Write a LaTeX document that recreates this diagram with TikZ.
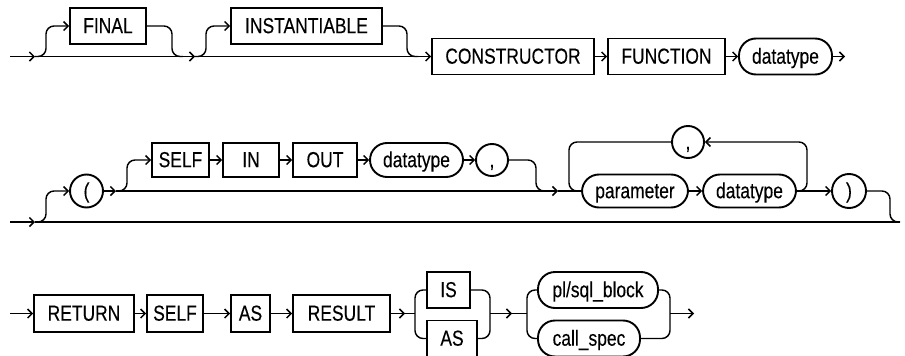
\documentclass[tikz,border=0pt]{standalone}
\usepackage{fontspec}
\setmainfont{Liberation Sans}[FakeStretch=0.80,FakeBold=0.2]
\usetikzlibrary{arrows.meta}
\tikzset{
  kw/.style={draw, rectangle, line width=1.9pt, inner sep=0pt, text height=15.5pt, text depth=1.1pt, minimum height=35pt},
  var/.style={kw, rounded corners=17pt},
  punct/.style={draw, circle, line width=1.9pt, inner sep=0pt, text height=15.5pt, text depth=1.1pt, minimum size=33pt},
  ln/.style={line width=1.45pt},
  arr/.style={ln, -{Straight Barb[length=4.5pt,width=9pt]}},
  curveln/.style={ln, rounded corners=8pt},
  curvearr/.style={arr, rounded corners=8pt}
}
\begin{document}
\begin{tikzpicture}[x=1pt,y=-1pt,font=\fontsize{21.8}{25}\selectfont]
\useasboundingbox (0,0) rectangle (905,356);
% ---------- row 1 ----------
\node[kw, minimum width=76pt, minimum height=36pt] (final) at (108,26) {FINAL};
\node[kw, minimum width=151pt, minimum height=36pt] (inst) at (306.5,26) {INSTANTIABLE};
\node[kw, minimum width=162pt, minimum height=36pt] (cons) at (513,56.5) {CONSTRUCTOR};
\node[kw, minimum width=117pt, minimum height=36pt] (func) at (666.5,56.5) {FUNCTION};
\node[var, minimum width=93pt, minimum height=36pt] (dt1) at (785.5,56.5) {datatype};
\coordinate (s1) at (10,56.5);
\coordinate (a1) at (35,56.5);
\coordinate (m1) at (183,56.5);
\coordinate (a2) at (195,56.5);
\coordinate (m2) at (418,56.5);
\coordinate (e1) at (845,56.5);
\draw[arr] (s1) -- (a1);
\draw[ln] (a1) -- (m1);
\draw[arr] (m1) -- (a2);
\draw[ln] (a2) -- (m2);
\draw[arr] (m2) -- (cons.west);
\draw[curvearr] (a1) -| (46,26) -- (final.west);
\draw[curveln] (final.east) -| (172,56.5) -- (m1);
\draw[curvearr] (a2) -| (206,26) -- (inst.west);
\draw[curveln] (inst.east) -| (407,56.5) -- (m2);
\draw[arr] (cons.east) -- (func.west);
\draw[arr] (func.east) -- (dt1.west);
\draw[arr] (dt1.east) -- (e1);
% ---------- row 2 ----------
\node[punct] (lp) at (86.5,191) {(};
\node[kw, minimum width=57pt, minimum height=34pt] (self2) at (180.5,160) {SELF};
\node[kw, minimum width=56pt, minimum height=34pt] (in) at (251,160) {IN};
\node[kw, minimum width=64pt, minimum height=34pt] (out) at (325,160) {OUT};
\node[var, minimum width=93pt, minimum height=34pt] (dt2) at (416.5,160) {datatype};
\node[punct, minimum size=32pt] (c1) at (492,160) {,};
\node[var, minimum width=106pt, minimum height=33pt] (param) at (635,191) {parameter};
\node[var, minimum width=93pt, minimum height=33pt] (dt3) at (749.5,191) {datatype};
\node[punct, minimum size=32pt] (c2) at (688,142) {,};
\node[punct, minimum size=34pt] (rp) at (849,191) {)};
\coordinate (s2) at (10,222);
\coordinate (b1) at (35,222);
\coordinate (e2) at (900,222);
\coordinate (a3) at (116,191);
\coordinate (m3) at (546,191);
\coordinate (a4) at (558,191);
\draw[arr] (s2) -- (b1);
\draw[ln] (b1) -- (e2);
\draw[curvearr] (b1) -| (46,191) -- (lp.west);
\draw[arr] (lp.east) -- (a3);
\draw[ln] (a3) -- (m3);
\draw[arr] (m3) -- (a4);
\draw[ln] (a4) -- (param.west);
\draw[curvearr] (a3) -| (127,160) -- (self2.west);
\draw[arr] (self2.east) -- (in.west);
\draw[arr] (in.east) -- (out.west);
\draw[arr] (out.east) -- (dt2.west);
\draw[arr] (dt2.east) -- (c1.west);
\draw[curveln] (c1.east) -| (536,191) -- (m3);
\draw[arr] (param.east) -- (dt3.west);
\draw[curvearr] (dt3.east) -| (807,142) -- (c2.east);
\draw[curveln] (c2.west) -| (569,191) -- (param.west);
\draw[arr] (dt3.east) -- (rp.west);
\draw[curveln] (rp.east) -| (890,222) -- (e2);
% ---------- row 3 ----------
\node[kw, minimum width=100pt, minimum height=37pt] (ret) at (84,313.5) {RETURN};
\node[kw, minimum width=56pt, minimum height=37pt] (self3) at (175,313.5) {SELF};
\node[kw, minimum width=39pt, minimum height=37pt] (as1) at (250.5,313.5) {AS};
\node[kw, minimum width=97pt, minimum height=37pt] (res) at (341.5,313.5) {RESULT};
\node[kw, minimum width=43pt, minimum height=36pt] (is) at (448.5,290) {IS};
\node[kw, minimum width=50pt, minimum height=36pt] (as2) at (452,338.5) {AS};
\node[var, minimum width=120pt, minimum height=36pt] (pls) at (598,290) {pl/sql\_block};
\node[var, minimum width=102pt, minimum height=36pt] (cs) at (589,338.5) {call\_spec};
\coordinate (s3) at (10,313.5);
\coordinate (a5) at (405,313.5);
\coordinate (j1) at (415,313.5);
\coordinate (j2) at (490,313.5);
\coordinate (a6) at (512,313.5);
\coordinate (j3) at (527,313.5);
\coordinate (j4) at (670,313.5);
\coordinate (e3) at (694,313.5);
\draw[arr] (s3) -- (ret.west);
\draw[arr] (ret.east) -- (self3.west);
\draw[arr] (self3.east) -- (as1.west);
\draw[arr] (as1.east) -- (res.west);
\draw[arr] (res.east) -- (a5);
\draw[ln] (a5) -- (j1);
\draw[curveln] (is.west) -| (j1) |- (as2.west);
\draw[curveln] (is.east) -| (j2) |- (as2.east);
\draw[arr] (j2) -- (a6);
\draw[ln] (a6) -- (j3);
\draw[curveln] (pls.west) -| (j3) |- (cs.west);
\draw[curveln] (pls.east) -| (j4) |- (cs.east);
\draw[arr] (j4) -- (e3);
\end{tikzpicture}
\end{document}
